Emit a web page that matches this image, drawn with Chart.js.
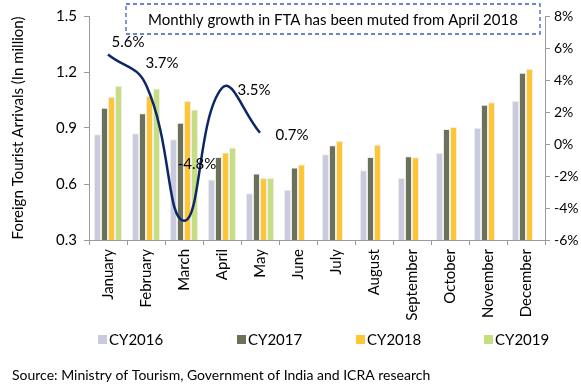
<!DOCTYPE html>
<html>
<head>
<meta charset="utf-8">
<script src="https://cdn.jsdelivr.net/npm/chart.js@4.4.1/dist/chart.umd.min.js"></script>
<style>
  body { margin: 0; background: #fff; }
  #wrap { width: 581px; height: 390px; }
</style>
</head>
<body>
<div id="wrap"><canvas id="fta" width="581" height="390"></canvas></div>
<script>
const months = ['January', 'February', 'March', 'April', 'May', 'June', 'July',
    'August', 'September', 'October', 'November', 'December'];

// arrivals in million
const cy2016 = [0.867, 0.872, 0.840, 0.624, 0.551, 0.568, 0.759, 0.673, 0.632, 0.766, 0.901, 1.045];
const cy2017 = [1.009, 0.979, 0.928, 0.744, 0.656, 0.689, 0.807, 0.744, 0.748, 0.894, 1.024, 1.196];
const cy2018 = [1.066, 1.072, 1.045, 0.769, 0.632, 0.705, 0.832, 0.810, 0.743, 0.906, 1.038, 1.216];
const cy2019 = [1.127, 1.111, 0.999, 0.796, 0.632, null, null, null, null, null, null, null];

// monthly growth in CY2019, %
const growth = [5.6, 3.7, -4.8, 3.5, 0.7, null, null, null, null, null, null, null];

const leftTicks = [0.3, 0.6, 0.9, 1.2, 1.5];
const rightTicks = [-6, -4, -2, 0, 2, 4, 6, 8];

const boxText = 'Monthly growth in FTA has been muted from April 2018';
const sourceText = 'Source: Ministry of Tourism, Government of India and ICRA research';

// where each growth label sits relative to its point
const labelOffsets = [[20, -12], [16, -22], [13, -57], [32, 2], [32, 2]];
const legendX = [98, 237, 356, 484];

const FONT = 'Lato, "Open Sans", sans-serif';
const axisColor = '#9a9a9a';

const barSet = (label, data, color) => ({
    type: 'bar',
    label: label,
    data: data,
    backgroundColor: color,
    borderColor: 'rgba(235,235,235,0.9)',
    borderWidth: 1,
    yAxisID: 'y',
    order: 1
});

const extras = {
    id: 'extras',
    afterDatasetsDraw(chart) {
        const c = chart.ctx;
        const meta = chart.getDatasetMeta(4);
        c.save();
        c.font = '15px ' + FONT;
        c.fillStyle = '#000';
        c.textAlign = 'center';
        c.textBaseline = 'middle';
        meta.data.forEach((pt, i) => {
            if (growth[i] === null) return;
            const off = labelOffsets[i];
            c.fillText(growth[i].toFixed(1) + '%', pt.x + off[0], pt.y + off[1]);
        });
        c.restore();
    },
    afterDraw(chart) {
        const c = chart.ctx;
        c.save();

        // dashed note box
        const bx = 126, by = 4, bw = 414, bh = 30;
        c.fillStyle = '#fff';
        c.fillRect(bx, by, bw, bh);
        c.setLineDash([4, 3]);
        c.strokeStyle = '#3a5fc0';
        c.lineWidth = 1.3;
        c.strokeRect(bx, by, bw, bh);
        c.setLineDash([]);
        c.font = '15px ' + FONT;
        c.fillStyle = '#000';
        c.textAlign = 'center';
        c.textBaseline = 'middle';
        c.fillText(boxText, bx + bw / 2, by + bh / 2 + 1);

        // legend
        c.textAlign = 'left';
        chart.data.datasets.slice(0, 4).forEach((ds, i) => {
            c.fillStyle = ds.backgroundColor;
            c.fillRect(legendX[i], 335, 9, 9);
            c.fillStyle = '#000';
            c.fillText(ds.label, legendX[i] + 11, 340);
        });

        // source
        c.font = '14px ' + FONT;
        c.fillText(sourceText, 12, 375);
        c.restore();
    }
};

new Chart(document.getElementById('fta'), {
    data: {
        labels: months,
        datasets: [
            barSet('CY2016', cy2016, '#c9cadd'),
            barSet('CY2017', cy2017, '#6b7259'),
            barSet('CY2018', cy2018, '#fec632'),
            barSet('CY2019', cy2019, '#c6dd80'),
            {
                type: 'line',
                label: 'Growth',
                data: growth,
                yAxisID: 'y1',
                borderColor: '#0c2768',
                borderWidth: 2.5,
                pointRadius: 0,
                tension: 0.45,
                fill: false,
                spanGaps: false,
                order: 0
            }
        ]
    },
    options: {
        responsive: false,
        animation: false,
        layout: { padding: { left: 9, top: 14, right: 0, bottom: 70 } },
        datasets: { bar: { barPercentage: 1, categoryPercentage: 0.74 } },
        plugins: {
            legend: { display: false },
            tooltip: { enabled: false }
        },
        scales: {
            x: {
                offset: true,
                grid: { offset: true, drawOnChartArea: false, tickLength: 5, color: axisColor },
                border: { color: axisColor },
                ticks: {
                    minRotation: 90, maxRotation: 90, autoSkip: false,
                    color: '#000', font: { family: FONT, size: 15 }, padding: 4
                },
                afterFit: s => { s.height = 80; }
            },
            y: {
                position: 'left',
                min: leftTicks[0],
                max: leftTicks[leftTicks.length - 1],
                afterBuildTicks: s => { s.ticks = leftTicks.map(v => ({ value: v })); },
                ticks: {
                    callback: v => v.toFixed(1),
                    color: '#000', font: { family: FONT, size: 15 }, padding: 7
                },
                grid: { drawOnChartArea: false, tickLength: 5, color: axisColor },
                border: { color: axisColor },
                title: {
                    display: true, text: 'Foreign Tourist Arrivals (In million)',
                    color: '#000', font: { family: FONT, size: 15 }, padding: 0
                },
                afterFit: s => { s.width = 80; }
            },
            y1: {
                position: 'right',
                min: rightTicks[0],
                max: rightTicks[rightTicks.length - 1],
                afterBuildTicks: s => { s.ticks = rightTicks.map(v => ({ value: v })); },
                ticks: {
                    callback: v => v + '%',
                    color: '#000', font: { family: FONT, size: 14 }, padding: 4
                },
                grid: { drawOnChartArea: false, tickLength: 5, color: axisColor },
                border: { color: axisColor },
                afterFit: s => { s.width = 36; }
            }
        }
    },
    plugins: [extras]
});
</script>
</body>
</html>
